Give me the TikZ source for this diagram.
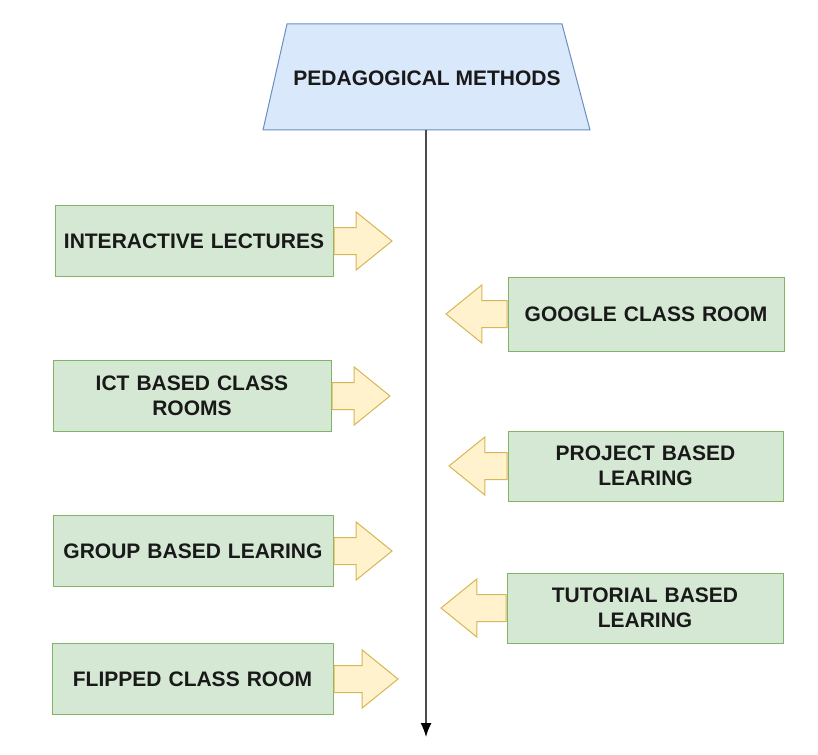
\documentclass[tikz,border=0pt]{standalone}
\usepackage{fontspec}
\setmainfont{Liberation Sans}
\usetikzlibrary{shapes.geometric,shapes.arrows,arrows.meta}
\definecolor{gfill}{HTML}{D5E8D4}
\definecolor{gline}{HTML}{82B366}
\definecolor{bfill}{HTML}{DAE8FC}
\definecolor{bline}{HTML}{6C8EBF}
\definecolor{yfill}{HTML}{FFF2CC}
\definecolor{yline}{HTML}{D6B656}
\tikzset{
  lbl/.style={font=\fontsize{21}{24.5}\selectfont\bfseries, text=black!90},
  gbox/.style={draw=gline, fill=gfill, line width=1pt, minimum width=278pt, minimum height=71pt,
    align=center, text width=274pt, lbl, inner sep=0pt},
  barrow/.style={single arrow, draw=yline, fill=yfill, line width=1pt, minimum height=58pt,
    minimum width=57pt, inner xsep=0pt, inner ysep=13pt, single arrow head extend=15.5pt,
    single arrow tip angle=78, anchor=tail},
}
\begin{document}
\begin{tikzpicture}[x=1pt,y=-1pt]
\useasboundingbox (0,0) rectangle (818,754);
\draw[draw=bline, fill=bfill, line width=1pt] (287,24) -- (562,24) -- (590,130) -- (263,130) -- cycle;
\node[lbl] (top) at (427,78) {PEDAGOGICAL METHODS};
\coordinate (topb) at (426,130);
\coordinate (end) at (426,737);
\draw[line width=1.5pt, black!70, -{Latex[length=14pt,width=11pt,black]}] (topb) -- (end);

\node[gbox, minimum width=278pt] (l1) at (194,241) {INTERACTIVE LECTURES};
\node[gbox, minimum width=278pt] (l2) at (192,396) {ICT BASED CLASS\\ROOMS};
\node[gbox, minimum width=280pt] (l3) at (193,551) {GROUP BASED LEARING};
\node[gbox, minimum width=281pt] (l4) at (192.5,679) {FLIPPED CLASS ROOM};
\node[gbox, minimum width=276pt, minimum height=74pt] (r1) at (646,314) {GOOGLE CLASS ROOM};
\node[gbox, minimum width=275pt, minimum height=70pt] (r2) at (645.5,466) {PROJECT BASED\\LEARING};
\node[gbox, minimum width=276pt, minimum height=70pt] (r3) at (645,608) {TUTORIAL BASED\\LEARING};

\node[barrow] (a1) at (l1.east) {};
\node[barrow] (a2) at (l2.east) {};
\node[barrow] (a3) at (l3.east) {};
\node[barrow, minimum height=64pt] (a4) at (l4.east) {};
\node[barrow, shape border rotate=180, minimum height=61pt] (b1) at (r1.west) {};
\node[barrow, shape border rotate=180] (b2) at (r2.west) {};
\node[barrow, shape border rotate=180, minimum height=65pt] (b3) at (r3.west) {};
\end{tikzpicture}
\end{document}
